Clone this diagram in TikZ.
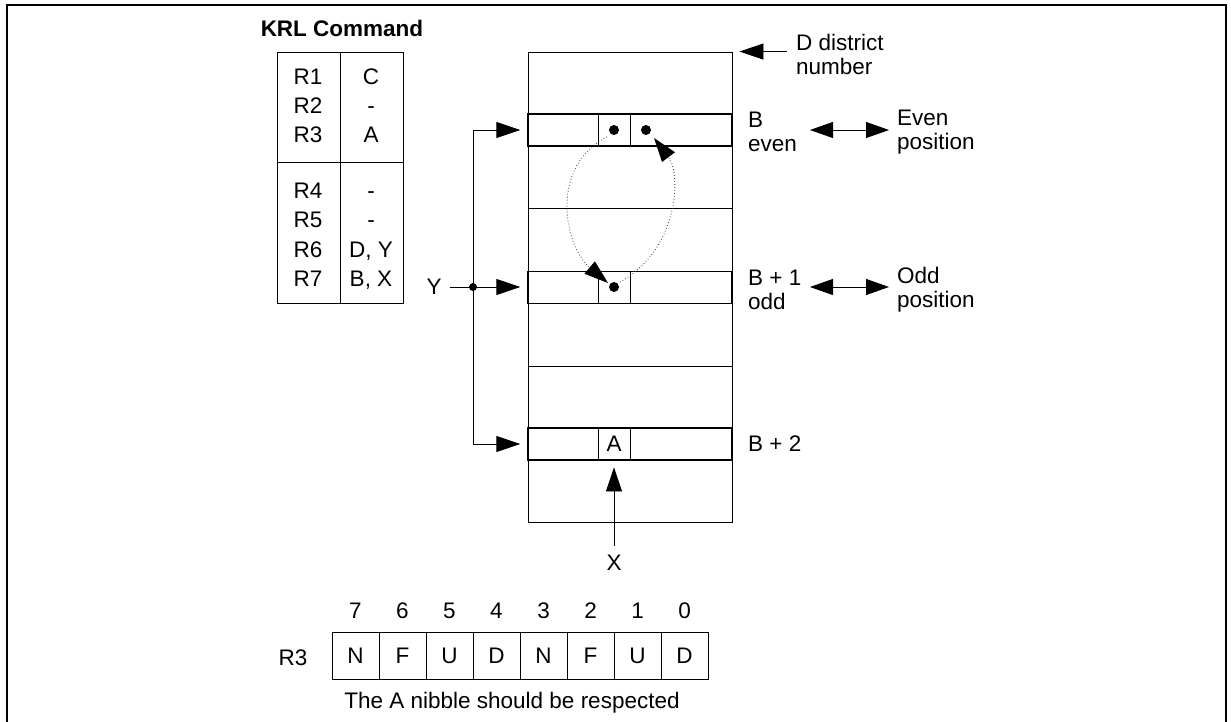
\documentclass[tikz,border=0pt]{standalone}
\usepackage{fontspec}
\setmainfont{Liberation Sans}
\usetikzlibrary{arrows.meta}
\begin{document}
\begin{tikzpicture}[x=1pt,y=-1pt,
  txt/.style={font=\fontsize{22.5}{24}\selectfont, inner sep=0pt},
  ttl/.style={font=\bfseries\fontsize{22.5}{24}\selectfont, inner sep=0pt},
  ln/.style={draw=black, line width=0.9pt},
  rowbox/.style={draw=black, line width=1.4pt, minimum width=204pt, minimum height=32pt, inner sep=0pt},
  sqbox/.style={draw=black, line width=0.9pt, minimum width=32pt, minimum height=32pt, inner sep=0pt, font=\fontsize{22.5}{24}\selectfont},
  cellbox/.style={draw=black, line width=0.9pt, minimum width=47pt, minimum height=47pt, inner sep=0pt, font=\fontsize{22.5}{24}\selectfont},
  blob/.style={circle, fill=black, inner sep=0pt, minimum size=10pt},
  tip/.style={ln, -{Triangle[length=24pt,width=16pt]}},
  dtip/.style={ln, {Triangle[length=23pt,width=16pt]}-{Triangle[length=23pt,width=16pt]}},
  dotline/.style={draw=black!75, line width=0.8pt, dash pattern=on 0.8pt off 2.2pt, -{Triangle[length=24pt,width=16pt,color=black]}}
]
\useasboundingbox (0,0) rectangle (1231,722);
\draw[line width=2pt] (7,725) -- (7,5) -- (1226,5) -- (1226,725);

% KRL table
\node[ttl, anchor=base] (krl) at (342,37) {KRL Command};
\node[draw=black, line width=0.9pt, minimum width=126pt, minimum height=251pt, inner sep=0pt] (tbl) at (340,177.5) {};
\draw[ln] (tbl.north) -- (tbl.south);
\draw[ln] (tbl.west |- 0,162) -- (tbl.east |- 0,162);
\foreach \r/\v/\y in {1/C/85, 2/-/114, 3/A/143, 4/-/199, 5/-/228, 6/{D, Y}/257, 7/{B, X}/286}{
  \node[txt, anchor=base] (rl\r) at (308,\y) {R\r};
  \node[txt, anchor=base] (rv\r) at (371,\y) {\v};
}

% memory block
\node[draw=black, line width=0.9pt, minimum width=204pt, minimum height=470pt, inner sep=0pt] (mem) at (630,287) {};
\draw[ln] (mem.west |- 0,208) -- (mem.east |- 0,208);
\draw[ln] (mem.west |- 0,366) -- (mem.east |- 0,366);
\node[rowbox] (rowB) at (630,130) {};
\node[rowbox] (rowB1) at (630,287.5) {};
\node[rowbox] (rowB2) at (630,444) {};
\node[sqbox] (sqB) at (614,130) {};
\node[sqbox] (sqB1) at (614,287.5) {};
\node[sqbox] (sqB2) at (614,444) {A};
\node[blob] (dB1) at (614,130) {};
\node[blob] (dB2) at (646,130) {};
\node[blob] (dO) at (614,287) {};

% bus and Y
\coordinate (busT) at (473,130);
\coordinate (jn) at (473,287);
\coordinate (busB) at (473,444);
\draw[ln] (busT) -- (busB);
\node[blob, minimum size=8pt] (jdot) at (jn) {};
\draw[tip, shorten >=7pt] (busT) -- (rowB.west);
\draw[tip, shorten >=7pt] (jn) -- (rowB1.west |- jn);
\draw[tip, shorten >=7pt] (busB) -- (rowB2.west);
\node[txt] (ylab) at (434,287) {Y};
\draw[ln, shorten <=8pt] (ylab.east) -- (jn);

% X
\node[txt] (xlab) at (614,563) {X};
\draw[tip, shorten <=9pt, shorten >=7pt] (xlab.north) -- (sqB2.south);

% right labels
\node[txt, anchor=west, align=left] (dlab) at (796,54) {D district\\number};
\draw[tip] ([xshift=-9pt]dlab.west |- mem.north east) -- ([xshift=7pt]mem.north east);
\node[txt, anchor=west, align=left] (lb) at (748,132) {B\\even};
\node[txt, anchor=west, align=left] (evp) at (897,132) {Even\\position};
\draw[dtip] ([xshift=62pt]lb.west |- dB1) -- ([xshift=-8pt]evp.west |- dB1);
\node[txt, anchor=west, align=left] (lb1) at (748,290) {B + 1\\odd};
\node[txt, anchor=west, align=left] (odp) at (897,290) {Odd\\position};
\draw[dtip] ([xshift=62pt]lb1.west |- dO) -- ([xshift=-8pt]odp.west |- dO);
\node[txt, anchor=west] (lb2) at (748,444) {B + 2};

% dotted swap arrows
\coordinate (aS) at (607,137);
\coordinate (aE) at (608,283);
\coordinate (bS) at (620,282);
\coordinate (bE) at (654,138);
\draw[dotline] (aS) .. controls (550,165) and (563,245) .. (aE);
\draw[dotline] (bS) .. controls (678,250) and (682,175) .. (bE);

% register
\node[txt] (r3) at (293,658) {R3};
\foreach \i/\b/\l in {0/7/N, 1/6/F, 2/5/U, 3/4/D, 4/3/N, 5/2/F, 6/1/U, 7/0/D}{
  \node[cellbox] (c\b) at ({332+47*(\i+0.5)},655.5) {\l};
  \node[txt] (n\b) at ({332+47*(\i+0.5)},611) {\b};
}
\node[txt] (cap) at (512,703) {The A nibble should be respected};
\end{tikzpicture}
\end{document}
